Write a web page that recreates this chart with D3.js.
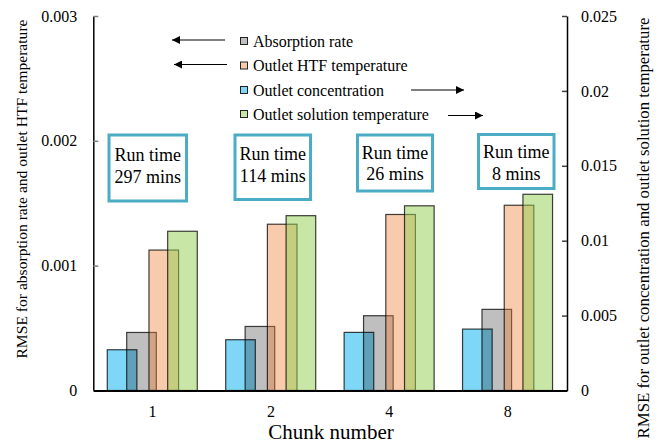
<!DOCTYPE html>
<html><head><meta charset="utf-8">
<script src="https://cdn.jsdelivr.net/npm/d3@7"></script>
<style>body{margin:0;background:#fff}svg{display:block}svg text{font-family:"Liberation Serif","Times New Roman",Tinos,"DejaVu Serif","Noto Serif",serif !important;fill:#000}</style>
</head><body><svg id="c" width="662" height="447"></svg>
<script>
const categories = ["1","2","4","8"];
const absorptionRate = [0.000465, 0.000513, 0.000599, 0.00065];
const outletHTF = [0.001125, 0.001332, 0.00141, 0.001484];
const outletConcentration = [0.00272, 0.00339, 0.00388, 0.0041];
const outletSolution = [0.01063, 0.01167, 0.01233, 0.0131];
const runTimes = ["297 mins","114 mins","26 mins","8 mins"];
const leftTicks = [0, 0.001, 0.002, 0.003];
const rightTicks = [0, 0.005, 0.01, 0.015, 0.02, 0.025];
const legendLabels = ["Absorption rate","Outlet HTF temperature","Outlet concentration","Outlet solution temperature"];

const FONT = '"Liberation Serif","Times New Roman",Tinos,"DejaVu Serif",serif';
const svg = d3.select("#c").attr("font-family", FONT);
const L = 93.3, R = 567, T = 16, B = 390.5;
const x = d3.scaleBand().domain(categories).range([L, R]).padding(0);
const yL = d3.scaleLinear().domain([0, 0.003]).range([B, T]);
const yR = d3.scaleLinear().domain([0, 0.025]).range([B, T]);

const series = [
  {name: legendLabels[2], values: outletConcentration, scale: yR, color: "#00B0F0", op: 0.5, off: 0.118},
  {name: legendLabels[0], values: absorptionRate, scale: yL, color: "#000000", op: 0.25, off: 0.282},
  {name: legendLabels[1], values: outletHTF, scale: yL, color: "#ED7D31", op: 0.4, off: 0.470},
  {name: legendLabels[3], values: outletSolution, scale: yR, color: "#92D050", op: 0.5, off: 0.628}
];
const bw = x.bandwidth() * 0.25;

series.forEach(s => {
  svg.append("g").selectAll("rect").data(s.values).join("rect")
    .attr("x", (d,i) => x(categories[i]) + x.bandwidth()*s.off)
    .attr("y", d => s.scale(d))
    .attr("width", bw)
    .attr("height", d => B - s.scale(d))
    .attr("fill", s.color).attr("fill-opacity", s.op)
    .attr("stroke", "#000").attr("stroke-opacity", 0.75).attr("stroke-width", 1.2);
});

// axes
const gl = svg.append("g").attr("transform", `translate(${L},0)`)
  .call(d3.axisLeft(yL).tickValues(leftTicks).tickFormat(d => d === 0 ? "0" : d3.format(".3f")(d)).tickSizeInner(-5).tickSizeOuter(0).tickPadding(16));
gl.attr("font-family", FONT);
gl.select(".domain").attr("stroke", "#000").attr("stroke-width", 1.5);
gl.selectAll(".tick line").attr("stroke", "#808080").attr("stroke-width", 1.5);
gl.selectAll(".tick text").attr("font-size", 16);

const rightFmt = d => d === 0 ? "0" : String(+d.toFixed(3));
const gr = svg.append("g").attr("transform", `translate(${R},0)`)
  .call(d3.axisRight(yR).tickValues(rightTicks).tickFormat(rightFmt).tickSizeInner(-5).tickSizeOuter(0).tickPadding(14));
gr.attr("font-family", FONT);
gr.select(".domain").attr("stroke", "#000").attr("stroke-width", 1.5);
gr.selectAll(".tick line").attr("stroke", "#404040").attr("stroke-width", 1.5);
gr.selectAll(".tick text").attr("font-size", 16);

const gx = svg.append("g").attr("transform", `translate(0,${B})`)
  .call(d3.axisBottom(x).tickSize(0).tickPadding(15));
gx.attr("font-family", FONT);
gx.select(".domain").attr("stroke", "#000").attr("stroke-width", 2);
gx.selectAll(".tick text").attr("font-size", 16);

// titles
svg.append("text").attr("transform", "translate(27,189) rotate(-90)").attr("text-anchor", "middle")
  .attr("font-size", 15.6).text("RMSE for absorption rate and outlet HTF temperature");
svg.append("text").attr("transform", "translate(649,228) rotate(-90)").attr("text-anchor", "middle")
  .attr("font-size", 16.8).text("RMSE for outlet concentration and outlet solution temperature");
svg.append("text").attr("x", 331).attr("y", 439).attr("text-anchor", "middle")
  .attr("font-size", 21).text("Chunk number");

// legend
const legendOrder = [series[1], series[2], series[0], series[3]];
const rowsY = [41, 65.5, 90, 114];
legendOrder.forEach((s, i) => {
  svg.append("rect").attr("x", 240.5).attr("y", rowsY[i]-3.5).attr("width", 7).attr("height", 7)
    .attr("fill", s.color).attr("fill-opacity", s.op).attr("stroke", "#222").attr("stroke-width", 1);
  svg.append("text").attr("x", 253).attr("y", rowsY[i]+5.5).attr("font-size", 16).text(s.name);
});
const arrows = [
  {x1: 225, x2: 172, y: 40},
  {x1: 227, x2: 174, y: 64.5},
  {x1: 411, x2: 464, y: 90},
  {x1: 448, x2: 483, y: 115.5}
];
svg.append("defs").append("marker").attr("id","ah").attr("viewBox","0 0 10 10").attr("refX",10).attr("refY",5)
  .attr("markerWidth",8).attr("markerHeight",8).attr("markerUnits","userSpaceOnUse").attr("orient","auto")
  .append("path").attr("d","M0,0L10,5L0,10Z").attr("fill","#000");
arrows.forEach(a => {
  svg.append("line").attr("x1", a.x1).attr("x2", a.x2).attr("y1", a.y).attr("y2", a.y)
    .attr("stroke", "#000").attr("stroke-width", 1.2).attr("marker-end", "url(#ah)");
});

// run time boxes
const boxes = [
  {x0: 109, x1: 186.5, y0: 135, y1: 201, l1: 155, l2: 177},
  {x0: 235, x1: 310.5, y0: 135, y1: 199.5, l1: 153.5, l2: 175.5},
  {x0: 357.5, x1: 432.5, y0: 135, y1: 191, l1: 152.5, l2: 174},
  {x0: 478.5, x1: 554, y0: 134.5, y1: 188.5, l1: 152, l2: 173.5}
];
boxes.forEach((b, i) => {
  svg.append("rect").attr("x", b.x0).attr("y", b.y0).attr("width", b.x1-b.x0).attr("height", b.y1-b.y0)
    .attr("fill", "#fff").attr("stroke", "#4BACC6").attr("stroke-width", 3);
  const cx = (b.x0 + b.x1)/2;
  svg.append("text").attr("x", cx).attr("y", b.l1+6).attr("text-anchor","middle").attr("font-size", 18).text("Run time");
  svg.append("text").attr("x", cx).attr("y", b.l2+6).attr("text-anchor","middle").attr("font-size", 18).text(runTimes[i]);
});
</script></body></html>
